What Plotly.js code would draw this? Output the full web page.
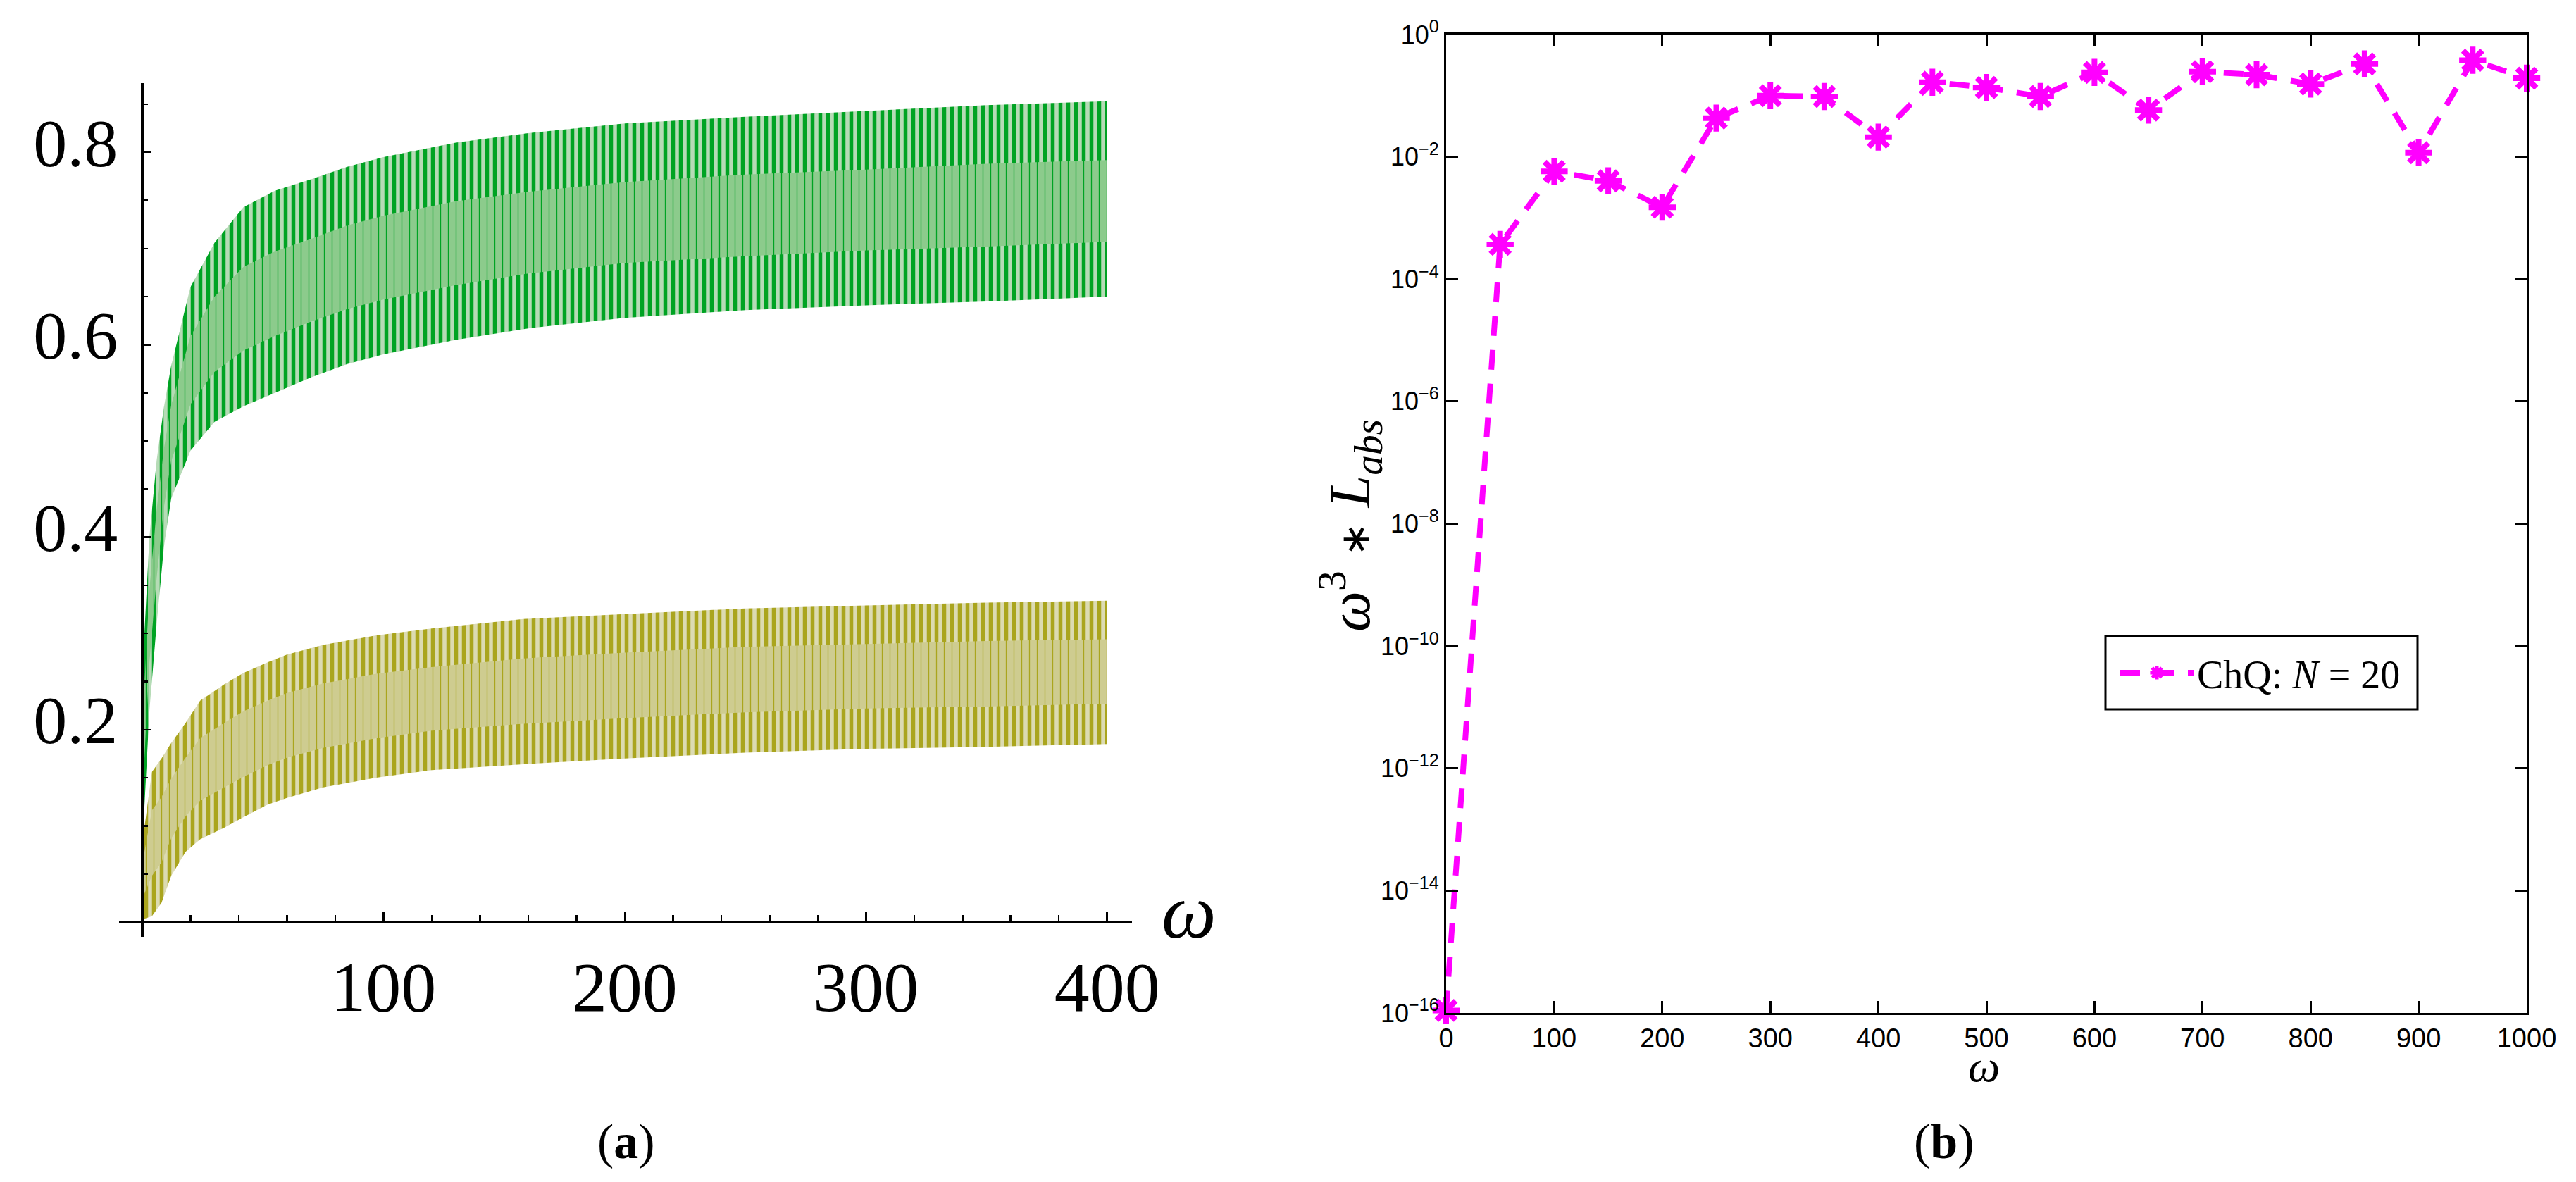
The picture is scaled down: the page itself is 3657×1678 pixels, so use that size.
<!DOCTYPE html>
<html>
<head>
<meta charset="utf-8">
<script src="https://cdn.plot.ly/plotly-3.0.1.min.js"></script>
<style>html,body{margin:0;padding:0;background:#fff}</style>
</head>
<body>
<div id="chart" style="width:3657px;height:1678px"></div>
<script>
// panel (a): edges of the two oscillating bands
gX      = [0.5, 3, 6, 9, 12, 20, 30, 42, 55, 70, 85, 100, 130, 160, 200, 250, 300, 350, 400]
gUpper  = [0.28, 0.40, 0.48, 0.535, 0.578, 0.66, 0.706, 0.743, 0.76, 0.772, 0.785, 0.795, 0.81, 0.82, 0.83, 0.837, 0.843, 0.849, 0.853]
gLower  = [0.10, 0.22, 0.31, 0.39, 0.44, 0.49, 0.52, 0.536, 0.55, 0.566, 0.58, 0.59, 0.605, 0.617, 0.628, 0.636, 0.641, 0.645, 0.65]
gCoreHi = [0.226, 0.346, 0.429, 0.492, 0.537, 0.609, 0.650, 0.681, 0.697, 0.710, 0.724, 0.734, 0.749, 0.759, 0.769, 0.777, 0.782, 0.788, 0.792]
gCoreLo = [0.150, 0.270, 0.358, 0.431, 0.479, 0.538, 0.572, 0.594, 0.609, 0.624, 0.637, 0.647, 0.662, 0.674, 0.685, 0.692, 0.698, 0.702, 0.707]

yX      = [0.5, 4, 8, 12, 18, 24, 34, 42, 52, 60, 75, 97, 120, 158, 200, 250, 300, 350, 400]
yUpper  = [0.09, 0.156, 0.17, 0.186, 0.207, 0.23, 0.247, 0.259, 0.27, 0.278, 0.288, 0.298, 0.305, 0.315, 0.32, 0.326, 0.329, 0.332, 0.334]
yLower  = [0.003, 0.006, 0.02, 0.048, 0.073, 0.086, 0.098, 0.109, 0.122, 0.129, 0.14, 0.15, 0.158, 0.164, 0.17, 0.176, 0.18, 0.182, 0.185]
yCoreHi = [0.067, 0.116, 0.13, 0.149, 0.171, 0.191, 0.207, 0.219, 0.23, 0.238, 0.248, 0.258, 0.265, 0.274, 0.28, 0.286, 0.289, 0.292, 0.294]
yCoreLo = [0.027, 0.048, 0.062, 0.087, 0.11, 0.126, 0.14, 0.151, 0.163, 0.171, 0.181, 0.191, 0.199, 0.206, 0.212, 0.218, 0.222, 0.224, 0.227]

aXTicks = [100, 200, 300, 400]
aYTicks = [0.2, 0.4, 0.6, 0.8]

// panel (b): omega^3 * L_abs for ChQ, N = 20
omega = [0, 50, 100, 150, 200, 250, 300, 350, 400, 450, 500, 550, 600, 650, 700, 750, 800, 850, 900, 950, 1000]
lAbs  = [1.1e-16, 3.7e-4, 5.8e-3, 4.05e-3, 1.5e-3, 0.043, 0.1, 0.097, 0.021, 0.166, 0.136, 0.097, 0.24, 0.058, 0.247, 0.22, 0.155, 0.33, 0.0117, 0.38, 0.193]
bYTicks = [1e-16, 1e-14, 1e-12, 1e-10, 1e-8, 1e-6, 1e-4, 1e-2, 1]
bYText  = ['10<sup>−16</sup>', '10<sup>−14</sup>', '10<sup>−12</sup>', '10<sup>−10</sup>', '10<sup>−8</sup>', '10<sup>−6</sup>', '10<sup>−4</sup>', '10<sup>−2</sup>', '10<sup>0</sup>']

W = 3657
H = 1678
serif = 'Liberation Serif, Times New Roman, serif'
sans = 'Liberation Sans, Arial, sans-serif'

function px(x){ return x / W; }
function py(y){ return 1 - y / H; }

// one striped band = invisible lower edge + upper edge filled down to it
function band(x, lo, hi, fg, bg, solid){
    var base = {x: x, y: lo, mode: 'lines', line: {width: 0, color: fg},
                showlegend: false, hoverinfo: 'skip', xaxis: 'x', yaxis: 'y'};
    var top = {x: x, y: hi, mode: 'lines', line: {width: 0, color: fg},
               fill: 'tonexty', fillcolor: bg,
               fillpattern: {shape: '|', size: 11, solidity: solid, fgcolor: fg, bgcolor: bg},
               showlegend: false, hoverinfo: 'skip', xaxis: 'x', yaxis: 'y'};
    return [base, top];
}

var data = [];
data = data.concat(band(gX, gLower, gUpper, '#00a323', '#b6dbb6', 0.5));
data = data.concat(band(gX, gCoreLo, gCoreHi, '#00a323', '#8ccb8c', 0.12));
data = data.concat(band(yX, yLower, yUpper, '#aaa51e', '#dcdbb2', 0.5));
data = data.concat(band(yX, yCoreLo, yCoreHi, '#aaa51e', '#cecc90', 0.12));

data.push({
    x: omega,
    y: lAbs,
    name: 'ChQ: <i>N</i> = 20',
    mode: 'lines+markers',
    line: {color: '#ff00ff', width: 8, dash: '28px,20px'},
    marker: {symbol: 'asterisk-open', size: 32, color: '#ff00ff',
             line: {color: '#ff00ff', width: 8}},
    cliponaxis: false,
    xaxis: 'x2',
    yaxis: 'y2'
});

var layout = {
    width: W,
    height: H,
    margin: {l: 0, r: 0, t: 0, b: 0},
    paper_bgcolor: '#ffffff',
    plot_bgcolor: 'rgba(0,0,0,0)',
    showlegend: true,
    xaxis: {
        domain: [px(169), px(1607)],
        range: [-9.6, 410.3],
        anchor: 'free',
        position: py(1309),
        showline: true, linecolor: '#000', linewidth: 4,
        showgrid: false, zeroline: false,
        tickmode: 'array', tickvals: aXTicks,
        ticks: 'inside', ticklen: 13, tickwidth: 2.5, tickcolor: '#000',
        minor: {tickmode: 'linear', tick0: 0, dtick: 20, ticks: 'inside', ticklen: 8, tickwidth: 2.5, tickcolor: '#000'},
        ticklabelstandoff: 4,
        tickfont: {family: serif, size: 100, color: '#000'}
    },
    yaxis: {
        domain: [py(1330), py(118)],
        range: [-0.0154, 0.8719],
        anchor: 'free',
        position: px(201.5),
        showline: true, linecolor: '#000', linewidth: 4,
        showgrid: false, zeroline: false,
        tickmode: 'array', tickvals: aYTicks,
        ticks: 'inside', ticklen: 10, tickwidth: 2.5, tickcolor: '#000',
        minor: {tickmode: 'linear', tick0: 0, dtick: 0.05, ticks: 'inside', ticklen: 6, tickwidth: 2.5, tickcolor: '#000'},
        ticklabelstandoff: 13,
        ticklabelshift: -14,
        tickfont: {family: serif, size: 96, color: '#000'}
    },
    xaxis2: {
        domain: [px(2053), px(3587)],
        range: [0, 1000],
        anchor: 'y2',
        showline: true, mirror: 'ticks', linecolor: '#000', linewidth: 3,
        showgrid: false, zeroline: false,
        tickmode: 'linear', tick0: 0, dtick: 100,
        ticks: 'inside', ticklen: 17, tickwidth: 3, tickcolor: '#000',
        ticklabelstandoff: 0,
        tickfont: {family: sans, size: 38, color: '#000'}
    },
    yaxis2: {
        domain: [py(1438), py(49)],
        type: 'log',
        range: [-16, 0],
        anchor: 'x2',
        showline: true, mirror: 'ticks', linecolor: '#000', linewidth: 3,
        showgrid: false, zeroline: false,
        tickmode: 'array', tickvals: bYTicks, ticktext: bYText,
        ticks: 'inside', ticklen: 17, tickwidth: 3, tickcolor: '#000',
        ticklabelstandoff: 0,
        tickfont: {family: sans, size: 36, color: '#000'}
    },
    legend: {
        x: px(3005), y: py(955), xanchor: 'left', yanchor: 'middle',
        bgcolor: 'rgba(0,0,0,0)', borderwidth: 0,
        itemwidth: 104,
        font: {family: serif, size: 56, color: '#000'}
    },
    shapes: [
        // legend frame
        {type: 'rect', xref: 'paper', yref: 'paper',
         x0: px(2989), x1: px(3432), y0: py(1007), y1: py(903),
         line: {color: '#000', width: 3}, fillcolor: 'rgba(0,0,0,0)'}
    ],
    annotations: [
        // axis labels
        {text: '<i>ω</i>', xref: 'paper', yref: 'paper', x: px(1688), y: py(1294),
         xanchor: 'center', yanchor: 'middle', showarrow: false,
         font: {family: serif, size: 110, color: '#000'}},
        {text: '<i>ω</i>', xref: 'paper', yref: 'paper', x: px(2816), y: py(1513),
         xanchor: 'center', yanchor: 'middle', showarrow: false,
         font: {family: serif, size: 64, color: '#000'}},
        {text: '<i>ω</i><sup>3</sup> <span style="font-size:58px">∗</span> <i>L</i><sub><i>abs</i></sub>',
         xref: 'paper', yref: 'paper', x: px(1916), y: py(746), textangle: -90,
         xanchor: 'center', yanchor: 'middle', showarrow: false,
         font: {family: serif, size: 82, color: '#000'}},
        // panel captions
        {text: '(<b>a</b>)', xref: 'paper', yref: 'paper', x: px(889), y: py(1620),
         xanchor: 'center', yanchor: 'middle', showarrow: false,
         font: {family: serif, size: 70, color: '#000'}},
        {text: '(<b>b</b>)', xref: 'paper', yref: 'paper', x: px(2760), y: py(1620),
         xanchor: 'center', yanchor: 'middle', showarrow: false,
         font: {family: serif, size: 70, color: '#000'}}
    ]
};

Plotly.newPlot('chart', data, layout, {staticPlot: true});
</script>
</body>
</html>
